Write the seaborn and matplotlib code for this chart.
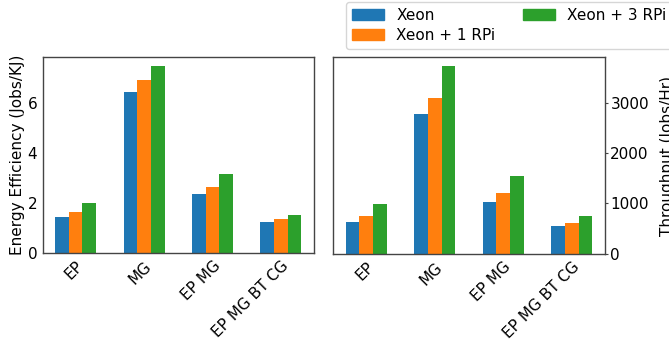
import matplotlib
matplotlib.use("Agg")
import matplotlib.pyplot as plt
import matplotlib.patches as mpatches
import seaborn as sns
import pandas as pd

workloads = ["EP", "MG", "EP MG", "EP MG BT CG"]
configs = ["Xeon", "Xeon + 1 RPi", "Xeon + 3 RPi"]

# Energy efficiency (Jobs/KJ), one list per configuration
eff_xeon = [1.44, 6.45, 2.36, 1.24]
eff_1rpi = [1.64, 6.90, 2.65, 1.35]
eff_3rpi = [2.00, 7.48, 3.16, 1.52]

# Throughput (Jobs/Hr), one list per configuration
thr_xeon = [635, 2778, 1025, 549]
thr_1rpi = [754, 3095, 1210, 615]
thr_3rpi = [985, 3730, 1548, 754]

colors = ["#1f77b4", "#ff7f0e", "#2ca02c"]


def long_table(series):
    rows = []
    for cfg, vals in zip(configs, series):
        for w, v in zip(workloads, vals):
            rows.append({"workload": w, "config": cfg, "value": v})
    return pd.DataFrame(rows)


eff_df = long_table([eff_xeon, eff_1rpi, eff_3rpi])
thr_df = long_table([thr_xeon, thr_1rpi, thr_3rpi])

sns.set_style("white")
plt.rcParams["font.family"] = ["DejaVu Sans"]
plt.rcParams["font.size"] = 11
plt.rcParams["text.color"] = "black"
plt.rcParams["axes.labelcolor"] = "black"
plt.rcParams["xtick.color"] = "black"
plt.rcParams["ytick.color"] = "black"

fig = plt.figure(figsize=(6.69, 3.39), dpi=100)
ax1 = fig.add_axes([0.064, 0.254, 0.405, 0.578])
ax2 = fig.add_axes([0.498, 0.251, 0.406, 0.580])

for ax, df in ((ax1, eff_df), (ax2, thr_df)):
    sns.barplot(data=df, x="workload", y="value", hue="config",
                order=workloads, hue_order=configs, palette=colors,
                saturation=1, width=0.6, errorbar=None, ax=ax,
                linewidth=0)
    ax.set_xlim(-0.48, 3.48)
    ax.set_xlabel("")
    for s in ax.spines.values():
        s.set_color("#444444")
        s.set_linewidth(1.0)
    ax.tick_params(axis="both", length=2.5, width=0.8, pad=1.5,
                   labelsize=11, color="#444444", labelcolor="black")
    for lbl in ax.get_xticklabels():
        lbl.set_rotation(45)
        lbl.set_ha("right")
        lbl.set_rotation_mode("anchor")
    if ax.get_legend() is not None:
        ax.get_legend().remove()

ax1.set_ylim(0, 7.84)
ax1.set_yticks([0, 2, 4, 6])
ax1.set_ylabel("Energy Efficiency (Jobs/KJ)", fontsize=11, labelpad=2)

ax2.set_ylim(0, 3900)
ax2.set_yticks([0, 1000, 2000, 3000])
ax2.yaxis.tick_right()
ax2.yaxis.set_label_position("right")
ax2.set_ylabel("Throughput (Jobs/Hr)", fontsize=11, labelpad=8)

handles = [mpatches.Patch(color=c) for c in colors]
fig.legend(handles, configs, ncol=2, loc="upper left",
           bbox_to_anchor=(0.517, 0.995), borderaxespad=0,
           fontsize=11, frameon=True, fancybox=True,
           handlelength=2.1, columnspacing=1.8,
           borderpad=0.4, labelspacing=0.35)

fig.savefig("out.png", dpi=100)
